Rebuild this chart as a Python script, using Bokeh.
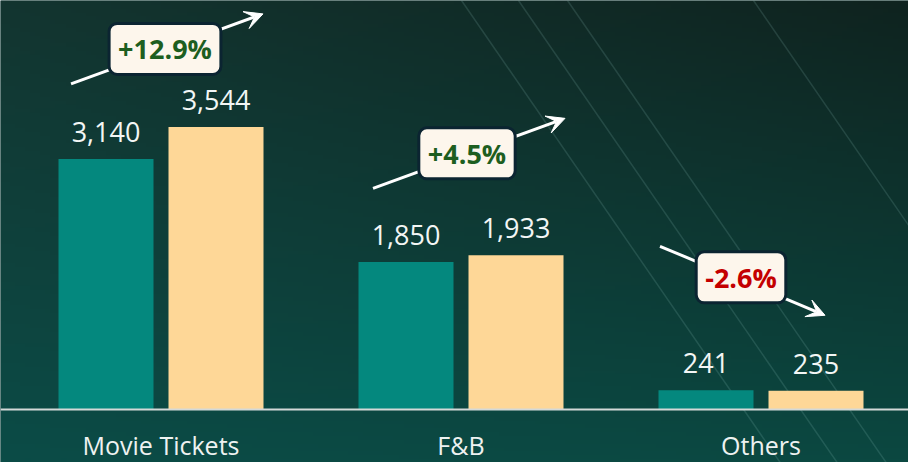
import numpy as np
from bokeh.plotting import figure
from bokeh.models import Range1d, Label, Arrow, VeeHead, Span, ColumnDataSource
from bokeh.core.properties import value
from bokeh.embed import file_html
from bokeh.resources import INLINE

# ---------------- data ----------------
categories = ["Movie Tickets", "F&B", "Others"]
prev_values = [3140, 1850, 241]
curr_values = [3544, 1933, 235]
change_labels = ["+12.9%", "+4.5%", "-2.6%"]

# ---------------- geometry ----------------
W, H = 908, 462
OX, OY = 0, 0
PX_PER_GROUP = 300.0         # px per category slot
PX_PER_UNIT = 0.07974        # px per value unit
BASE_Y = 409.0               # screen y of the zero line
X0_REF = 10.5                # screen x of slot start


def ux(X):
    return (X - X0_REF) / PX_PER_GROUP


def vy(Y):
    return (BASE_Y - Y) / PX_PER_UNIT


x_start, x_end = ux(OX), ux(OX + W)
y_start, y_end = vy(OY + H), vy(OY)

p = figure(width=W, height=H, x_range=Range1d(x_start, x_end),
           y_range=Range1d(y_start, y_end), output_backend="svg",
           toolbar_location=None, min_border=0,
           x_axis_location=None, y_axis_location=None)
p.grid.visible = False
p.outline_line_color = None
p.background_fill_color = "#0f3b36"
p.border_fill_color = "#0f3b36"

# ---------------- gradient background ----------------
ny, nx = 120, 180
t = np.linspace(1, 0, ny)[:, None]   # 0 = top, 1 = bottom (row 0 is bottom)
s = np.linspace(0, 1, nx)[None, :]
TL = np.array([19, 53, 48]); TR = np.array([15, 35, 31])
BL = np.array([11, 76, 71]); BR = np.array([11, 72, 65])
img = np.empty((ny, nx), dtype=np.uint32)
view = img.view(dtype=np.uint8).reshape((ny, nx, 4))
for k in range(3):
    top = (1 - s) * TL[k] + s * TR[k]
    bot = (1 - s) * BL[k] + s * BR[k]
    view[:, :, k] = np.clip((1 - t) * top + t * bot, 0, 255).astype(np.uint8)
view[:, :, 3] = 255
p.image_rgba(image=[img], x=x_start, y=y_start, dw=x_end - x_start, dh=y_end - y_start)

# decorative diagonal streaks
slope = 1.45
streak_x0 = [461, 518, 567, 753]
xs0, ys0, xs1, ys1 = [], [], [], []
for X in streak_x0:
    xs0.append(ux(X)); ys0.append(vy(0))
    xs1.append(ux(X + 470 / slope)); ys1.append(vy(470))
p.segment(xs0, ys0, xs1, ys1, line_color="#a8e0d6", line_alpha=0.15, line_width=1.5)

# ---------------- bars ----------------
centers = [i + 0.5 for i in range(len(categories))]
off = 55 / PX_PER_GROUP
bw = 95 / PX_PER_GROUP
src = ColumnDataSource(dict(
    x_prev=[c - off for c in centers],
    x_curr=[c + off for c in centers],
    prev=prev_values,
    curr=curr_values,
    prev_txt=[f"{v:,}" for v in prev_values],
    curr_txt=[f"{v:,}" for v in curr_values],
))
p.vbar(x="x_prev", top="prev", bottom=0, width=bw, fill_color="#04887e",
       line_color=None, source=src)
p.vbar(x="x_curr", top="curr", bottom=0, width=bw, fill_color="#fed797",
       line_color=None, source=src)

FONT = "Open Sans"
for col, txt in (("x_prev", "prev"), ("x_curr", "curr")):
    p.text(x=col, y=txt, text=txt + "_txt", source=src, y_offset=-27,
           text_align="center", text_baseline="alphabetic",
           text_font=value(FONT), text_font_size="27px", text_color="#f3f6f5")

# zero line
p.add_layout(Span(location=0, dimension="width", line_color="#d4d9d8", line_width=2))

# category labels
p.text(x=centers, y=[0] * len(centers), text=categories, y_offset=35,
       text_align="center", text_baseline="alphabetic",
       text_font=value(FONT), text_font_size="25px", text_color="#eef2f1")

# ---------------- change badges + arrows ----------------
badge_dx_px = [4, 6, -20]
badge_lift_px = [78, 102, 113]
for i, lab in enumerate(change_labels):
    up = not lab.startswith("-")
    gx = centers[i] + badge_dx_px[i] / PX_PER_GROUP
    gy = max(prev_values[i], curr_values[i]) + badge_lift_px[i] / PX_PER_UNIT
    if up:
        sx, sy, ex, ey = -94, -35, 98, 35
    else:
        sx, sy, ex, ey = -81, 31, 84, -38
    p.add_layout(Arrow(
        end=VeeHead(size=18, fill_color="white", line_color="white", line_width=1),
        x_start=gx + sx / PX_PER_GROUP, y_start=gy + sy / PX_PER_UNIT,
        x_end=gx + ex / PX_PER_GROUP, y_end=gy + ey / PX_PER_UNIT,
        line_color="white", line_width=3))
    p.add_layout(Label(
        x=gx, y=gy, text=lab, text_align="center", text_baseline="middle",
        text_font=FONT, text_font_size="27px", text_font_style="bold",
        text_color="#1d5e20" if up else "#c40000",
        background_fill_color="#fdf6ec", border_line_color="#0b2431",
        border_line_width=3, border_radius=8, padding=(9, 7)))

open("out.html", "w").write(file_html(p, INLINE))
